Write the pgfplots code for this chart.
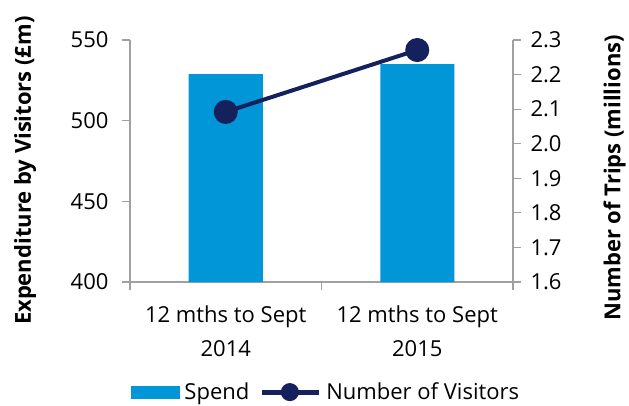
\documentclass[border=0pt]{standalone}
\usepackage{pgfplots}
\pgfplotsset{compat=1.18}
\usepackage{fontspec}
\setmainfont{Open Sans}
\definecolor{barblue}{HTML}{0096D8}
\definecolor{navy}{HTML}{15215C}
\definecolor{axgray}{HTML}{A0A0A0}
\begin{document}
\begin{tikzpicture}
\clip (-130pt,-123pt) rectangle (499pt,282pt);
\useasboundingbox (-130pt,-123pt) rectangle (499pt,282pt);
\pgfplotsset{
  common/.style={
    at={(0pt,0pt)},
    scale only axis, width=383pt, height=242pt,
    xmin=-0.5, xmax=1.5,
    tick align=outside,
    major tick length=8pt,
    tick style={axgray, line width=1.2pt},
    axis line style={axgray, line width=1.2pt},
    ticklabel style={font=\fontsize{22}{24}\selectfont},
    /pgf/number format/assume math mode=true,
    label style={font=\bfseries\fontsize{22}{24}\selectfont},
  }
}
\begin{axis}[common,
  anchor=south west,
  axis y line*=left, axis x line*=bottom,
  ymin=400, ymax=550, ytick={400,450,500,550},
  xtick={-0.5,0.5,1.5}, xticklabels={},
  extra x ticks={0,1},
  extra x tick labels={12 mths to Sept\\2014, 12 mths to Sept\\2015},
  extra x tick style={major tick length=0pt, tick label style={align=center, yshift=-20pt, font=\fontsize{22}{34}\selectfont}},
  ylabel={Expenditure by Visitors (£m)},
  ylabel style={at={(axis description cs:-0.274,0.46)}, anchor=center},
  yticklabel style={xshift=-10pt},
]
\addplot[ybar, bar width=74pt, fill=barblue, draw=none] coordinates {(0,528.8) (1,535)};
\end{axis}
\begin{axis}[common,
  anchor=south west,
  axis y line*=right, axis x line=none,
  ymin=1.6, ymax=2.3, ytick={1.6,1.7,...,2.3},
  /pgf/number format/fixed, /pgf/number format/fixed zerofill, /pgf/number format/precision=1,
  yticklabel style={xshift=6pt},
  ylabel={Number of Trips (millions)},
  ylabel style={at={(axis description cs:1.265,0.43)}, anchor=center, rotate=0},
  legend columns=2,
  legend style={draw=none, fill=none, at={(axis description cs:0.512,-0.455)}, anchor=center,
    font=\fontsize{22}{24}\selectfont,
    /tikz/every odd column/.append style={column sep=3pt},
    /tikz/every even column/.append style={column sep=8pt}},
]
\addlegendimage{legend image code/.code={\fill[barblue] (-2pt,-6pt) rectangle (46pt,6pt);}}
\addlegendentry{Spend}
\addplot[navy, line width=4pt, mark=*, mark size=10pt, mark options={fill=navy},
  legend image code/.code={\draw[navy, line width=5pt] (0pt,0pt) -- (57pt,0pt); \fill[navy] (28pt,0pt) circle (7pt);}]
  coordinates {(0,2.092) (1,2.271)};
\addlegendentry{Number of Visitors}
\end{axis}
\end{tikzpicture}
\end{document}
